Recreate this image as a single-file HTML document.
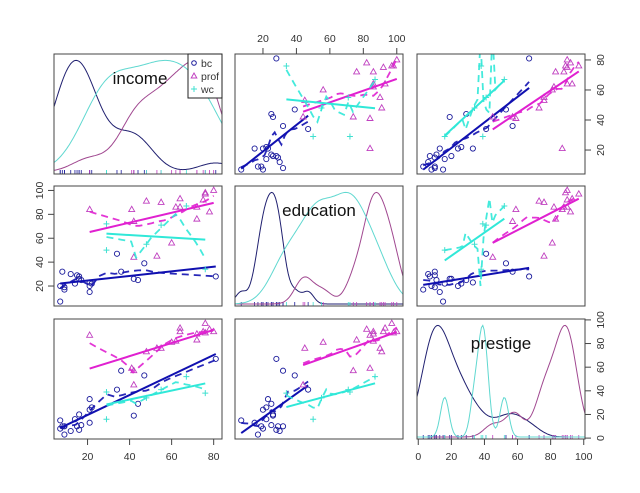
<!DOCTYPE html>
<html><head><meta charset="utf-8"><style>
body{margin:0;background:#fff;}
svg{display:block;font-family:"Liberation Sans",sans-serif;}
</style></head><body>
<svg id="chart" width="640" height="493" viewBox="0 0 640 493" xmlns="http://www.w3.org/2000/svg"></svg>
<script>
const income=[62,72,75,55,64,21,64,80,67,72,42,76,76,41,48,76,53,60,42,78,29,48,55,29,21,47,81,36,22,44,15,7,42,9,21,21,16,16,9,14,12,17,7,34,8];
const education=[86,76,92,90,86,84,93,100,87,86,74,98,97,84,91,34,45,56,44,82,72,55,71,50,23,39,28,32,22,25,29,7,26,19,15,20,26,28,17,22,30,25,20,47,32];
const prestige=[82,83,90,76,90,87,93,90,52,88,57,89,97,59,73,38,76,81,45,92,39,34,41,16,33,53,67,57,26,29,10,15,19,10,13,24,20,7,3,16,6,11,8,41,10];
const type=["prof","prof","prof","prof","prof","prof","prof","prof","wc","prof","prof","prof","prof","prof","prof","wc","prof","prof","prof","prof","wc","wc","wc","wc","bc","bc","bc","bc","bc","bc","bc","bc","bc","bc","bc","bc","bc","bc","bc","bc","bc","bc","bc","bc","bc"];
const groups=["bc","prof","wc"];
const varNames=["income","education","prestige"];
const ticksIncome=[20,40,60,80];
const ticksEducation=[20,40,60,80,100];
const ticksPrestige=[0,20,40,60,80,100];

const NS="http://www.w3.org/2000/svg";
const svg=document.getElementById('chart');
const vars=[income,education,prestige];
const ticks=[ticksIncome,ticksEducation,ticksPrestige];
const ptCol={bc:"#1c1c9c",prof:"#c040c0",wc:"#40e0d0"};
const lnCol={bc:"#1010b0",prof:"#e020d0",wc:"#30e8d8"};
const dCol={bc:"#202070",prof:"#a04890",wc:"#60d8d0"};
const colX=[54,235,417],rowY=[54,186,319],W=168,H=120;
function rng(v){const mn=Math.min(...v),mx=Math.max(...v),p=(mx-mn)*0.04;return[mn-p,mx+p];}
const ranges=vars.map(rng);
function sx(j,v){const r=ranges[j];return colX[j]+(v-r[0])/(r[1]-r[0])*W;}
function sy(i,v){const r=ranges[i];return rowY[i]+H-(v-r[0])/(r[1]-r[0])*H;}
function mk(tag,attrs,parent){const e=document.createElementNS(NS,tag);for(const k in attrs)e.setAttribute(k,attrs[k]);(parent||svg).appendChild(e);return e;}
function sd(a){const m=a.reduce((s,x)=>s+x,0)/a.length;return Math.sqrt(a.reduce((s,x)=>s+(x-m)*(x-m),0)/(a.length-1));}
function quant(a,q){const s=[...a].sort((x,y)=>x-y);const h=(s.length-1)*q,l=Math.floor(h);return s[l]+(s[Math.min(l+1,s.length-1)]-s[l])*(h-l);}

for(let i=0;i<3;i++)for(let j=0;j<3;j++){
  const g=mk('g',{});
  
  
  const clipId='c'+i+j;
  const cp=mk('clipPath',{id:clipId},g);mk('rect',{x:colX[j],y:rowY[i],width:W,height:H},cp);
  const inner=mk('g',{'clip-path':'url(#'+clipId+')'},g);
  if(i===j){
    // densities
    const v=vars[i],r=ranges[i];
    groups.forEach(gr=>{
      const xs=v.filter((x,k)=>type[k]===gr);
      const n=xs.length;
      const bw=0.9*Math.min(sd(xs),(quant(xs,0.75)-quant(xs,0.25))/1.34)*Math.pow(n,-0.2);
      const pts=[];let mx=0;const vals=[];
      for(let s=0;s<=120;s++){const x=r[0]+(r[1]-r[0])*s/120;let d=0;xs.forEach(xi=>{const z=(x-xi)/bw;d+=Math.exp(-z*z/2);});vals.push([x,d]);if(d>mx)mx=d;}
      const d=vals.map(p=>(colX[j]+(p[0]-r[0])/(r[1]-r[0])*W).toFixed(1)+','+(rowY[i]+H-2-(p[1]/mx)*(H*0.93)).toFixed(1)).join(' ');
      const pl=mk('polyline',{points:d,fill:'none',stroke:dCol[gr],'stroke-width':1},inner);
      
      
      xs.forEach(xi=>{const x=sx(j,xi);mk('line',{x1:x,x2:x,y1:rowY[i]+H,y2:rowY[i]+H-4,stroke:ptCol[gr],'stroke-width':0.8},inner);});
    });
    const t=mk('text',{x:colX[j]+W/2+(i===0?2:0),y:rowY[i]+30,'font-size':17,'text-anchor':'middle',fill:'#111'},g);
    t.textContent=varNames[i];
    
    
  } else {
    const xv=vars[j],yv=vars[i];
    groups.forEach(gr=>{
      const idx=xv.map((x,k)=>k).filter(k=>type[k]===gr);
      const xs=idx.map(k=>xv[k]),ys=idx.map(k=>yv[k]);
      // points
      idx.forEach(k=>{
        const px=sx(j,xv[k]),py=sy(i,yv[k]);
        let p;
        if(gr==='bc')p=mk('circle',{cx:px,cy:py,r:2.6,fill:'none',stroke:ptCol.bc,'stroke-width':0.9},inner);
        else if(gr==='prof')p=mk('path',{d:`M${px},${py-3.3}L${px+3},${py+2}L${px-3},${py+2}Z`,fill:'none',stroke:ptCol.prof,'stroke-width':0.9},inner);
        else p=mk('path',{d:`M${px-3},${py}H${px+3}M${px},${py-3}V${py+3}`,stroke:ptCol.wc,'stroke-width':1},inner);
        
        
      });
      // regression
      const n=xs.length,mx=xs.reduce((a,b)=>a+b)/n,my=ys.reduce((a,b)=>a+b)/n;
      let sxy=0,sxx=0;xs.forEach((x,k)=>{sxy+=(x-mx)*(ys[k]-my);sxx+=(x-mx)*(x-mx);});
      const b=sxy/sxx,a=my-b*mx;const x0=Math.min(...xs),x1=Math.max(...xs);
      const rl=mk('line',{x1:sx(j,x0),y1:sy(i,a+b*x0),x2:sx(j,x1),y2:sy(i,a+b*x1),stroke:lnCol[gr],'stroke-width':2},inner);
      
      
      // local smoother
      const sorted=idx.map(k=>[xv[k],yv[k]]).sort((p,q)=>p[0]-q[0]);
      const span=Math.max(3,Math.ceil(n*0.6));
      const sm=[];
      for(let s=0;s<=20;s++){const x=x0+(x1-x0)*s/20;
        const near=[...sorted].sort((p,q)=>Math.abs(p[0]-x)-Math.abs(q[0]-x)).slice(0,span);
        const h=Math.max(...near.map(p=>Math.abs(p[0]-x)))+1e-6;
        let sw=0,swx=0,swy=0,swxx=0,swxy=0;
        near.forEach(p=>{const u=Math.abs(p[0]-x)/h;const w=Math.pow(1-u*u*u,3);sw+=w;swx+=w*p[0];swy+=w*p[1];swxx+=w*p[0]*p[0];swxy+=w*p[0]*p[1];});
        const den=sw*swxx-swx*swx;let yh;
        if(Math.abs(den)<1e-6)yh=swy/sw;else{const bb=(sw*swxy-swx*swy)/den;yh=(swy-bb*swx)/sw+bb*x;}
        sm.push(sx(j,x).toFixed(1)+','+sy(i,yh).toFixed(1));}
      const sl=mk('polyline',{points:sm.join(' '),fill:'none',stroke:lnCol[gr],'stroke-width':1.8,'stroke-dasharray':'7,5',opacity:0.9},inner);
      
      
    });
  }
  const fr=mk('rect',{x:colX[j],y:rowY[i],width:W,height:H,fill:'none',stroke:'#444','stroke-width':1},g);
  
  
}
// axes
function xAxis(j,top){const g=mk('g',{});
  const y=top?rowY[0]:rowY[2]+H;const s=top?-1:1;const t=ticks[j];
  mk('line',{x1:sx(j,t[0]),x2:sx(j,t[t.length-1]),y1:y,y2:y,stroke:'#444'},g);
  t.forEach(v=>{const x=sx(j,v);mk('line',{x1:x,x2:x,y1:y,y2:y+s*6,stroke:'#444'},g);
    const tx=mk('text',{x:x,y:top?y-12:y+21,'font-size':10.5,'text-anchor':'middle',fill:'#333'},g);tx.textContent=v;});}
function yAxis(i,right){const g=mk('g',{});
  const x=right?colX[2]+W:colX[0];const s=right?1:-1;const t=ticks[i];
  mk('line',{y1:sy(i,t[0]),y2:sy(i,t[t.length-1]),x1:x,x2:x,stroke:'#444'},g);
  t.forEach(v=>{const y=sy(i,v);mk('line',{y1:y,y2:y,x1:x,x2:x+s*6,stroke:'#444'},g);
    const tx=mk('text',{x:0,y:0,'font-size':10.5,'text-anchor':'middle',fill:'#333',transform:`translate(${x+s*15},${y}) rotate(-90) translate(0,4)`},g);tx.textContent=v;});}
xAxis(1,true);xAxis(0,false);xAxis(2,false);
yAxis(0,true);yAxis(1,false);yAxis(2,true);
// legend
const lg=mk('g',{});
mk('rect',{x:188,y:54,width:34,height:44,fill:'#fff',stroke:'#222','stroke-width':1},lg);
groups.forEach((gr,k)=>{const y=63+k*13;const px=194;
  if(gr==='bc')mk('circle',{cx:px,cy:y,r:2.3,fill:'none',stroke:ptCol.bc},lg);
  else if(gr==='prof')mk('path',{d:`M${px},${y-3}L${px+2.8},${y+2}L${px-2.8},${y+2}Z`,fill:'none',stroke:ptCol.prof},lg);
  else mk('path',{d:`M${px-3},${y}H${px+3}M${px},${y-3}V${y+3}`,stroke:ptCol.wc},lg);
  const t=mk('text',{x:201,y:y+4,'font-size':10.5,fill:'#333'},lg);t.textContent=gr;
  
  });
</script>
</body></html>
